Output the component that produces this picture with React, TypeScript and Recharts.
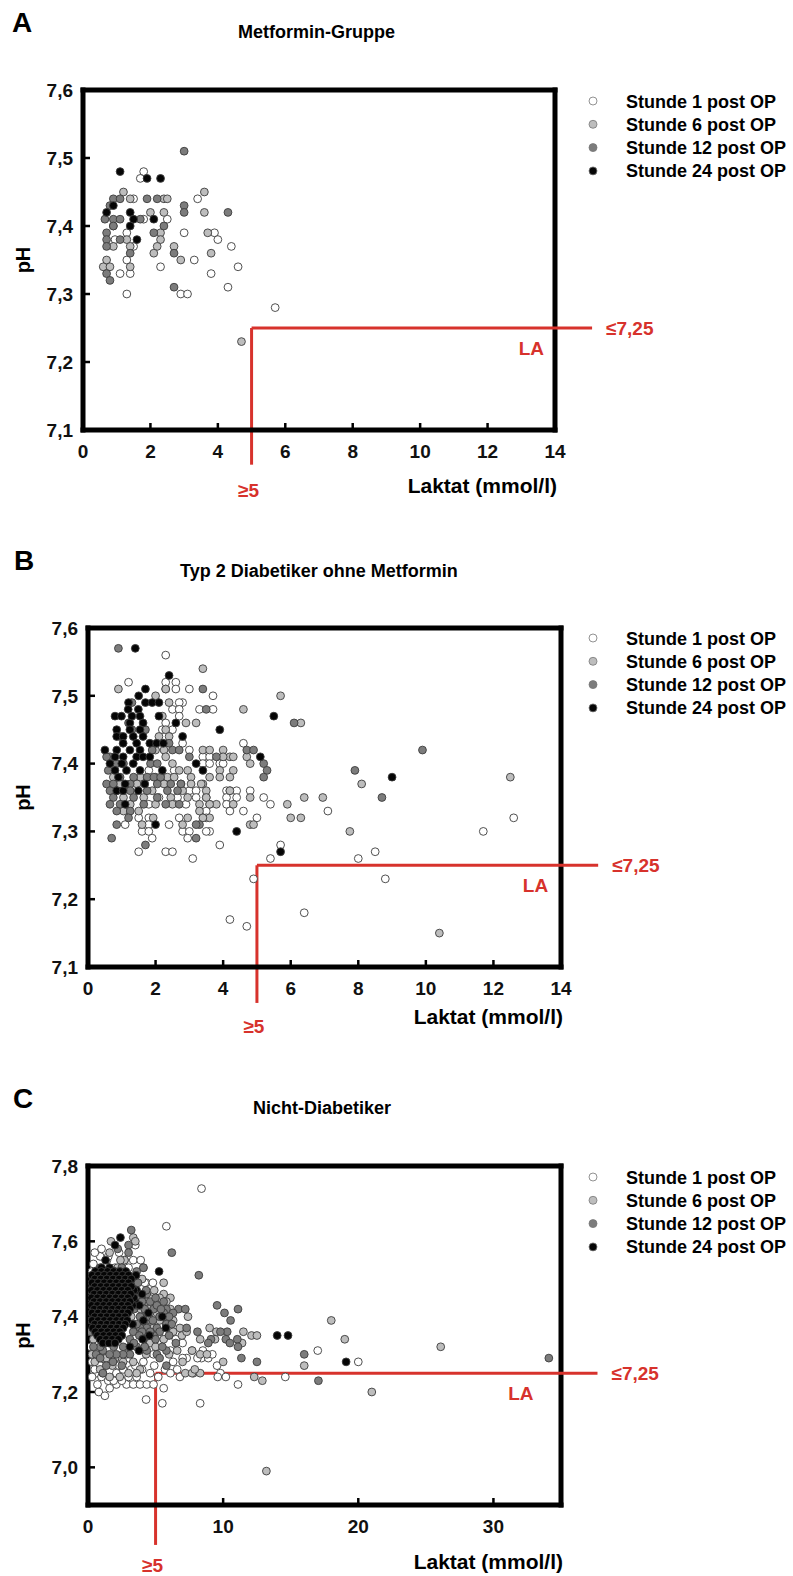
import React from 'react';
import { ScatterChart, Scatter, XAxis, YAxis, ReferenceLine } from 'recharts';

type Pt = [number, number];

// ---------- series definitions ----------
const seriesNames = ['Stunde 1 post OP', 'Stunde 6 post OP', 'Stunde 12 post OP', 'Stunde 24 post OP'];
const seriesFills = ['#ffffff', '#bdbdbd', '#7c7c7c', '#050505'];

// ---------- A: Metformin-Gruppe (Laktat, pH) ----------
const metH1: Pt[] = [
  [1.8, 7.48], [1.7, 7.47], [1.5, 7.44], [3.4, 7.44], [2.5, 7.41], [1.8, 7.41], [1.3, 7.39], [3.0, 7.39],
  [3.9, 7.39], [4.0, 7.38], [0.95, 7.38], [1.5, 7.37], [4.4, 7.37], [1.3, 7.35], [3.3, 7.35], [1.1, 7.33],
  [1.4, 7.33], [2.3, 7.34], [3.8, 7.33], [4.6, 7.34], [1.3, 7.3], [2.9, 7.3], [3.1, 7.3], [4.3, 7.31], [5.7, 7.28],
];
const metH6: Pt[] = [
  [1.2, 7.45], [3.6, 7.45], [1.4, 7.44], [2.4, 7.44], [2.5, 7.44], [2.0, 7.42], [2.4, 7.42], [3.6, 7.42],
  [2.3, 7.39], [3.7, 7.39], [1.3, 7.38], [2.3, 7.38], [0.9, 7.37], [1.4, 7.37], [2.2, 7.37], [2.7, 7.37],
  [2.1, 7.36], [3.8, 7.36], [2.9, 7.35], [0.7, 7.35], [0.6, 7.34], [0.8, 7.34], [1.4, 7.34], [4.7, 7.23], [0.9, 7.4],
];
const metH12: Pt[] = [
  [3.0, 7.51], [0.9, 7.44], [1.1, 7.44], [1.9, 7.44], [2.2, 7.44], [3.0, 7.43], [3.0, 7.42], [4.3, 7.42],
  [0.65, 7.41], [0.9, 7.41], [1.1, 7.41], [1.7, 7.41], [0.9, 7.4], [2.4, 7.4], [0.7, 7.39], [2.1, 7.39],
  [0.7, 7.38], [1.1, 7.38], [0.7, 7.37], [1.4, 7.36], [2.7, 7.36], [0.7, 7.33], [0.8, 7.32], [2.7, 7.31], [0.8, 7.43],
];
const metH24: Pt[] = [
  [1.1, 7.48], [1.9, 7.47], [2.3, 7.47], [0.9, 7.43], [0.7, 7.42], [1.4, 7.42], [1.5, 7.41], [1.4, 7.4],
  [2.1, 7.41], [1.6, 7.38],
];

// ---------- B: Typ 2 Diabetiker ohne Metformin ----------
const t2dH1: Pt[] = [
  [2.3, 7.56], [1.2, 7.52], [2.3, 7.52], [2.6, 7.52], [3.0, 7.51], [3.7, 7.5], [2.8, 7.49], [3.3, 7.48],
  [3.7, 7.48], [2.3, 7.51], [2.6, 7.51], [2.7, 7.49], [2.5, 7.48], [2.7, 7.48], [2.7, 7.47], [2.3, 7.46],
  [2.5, 7.45], [2.2, 7.45], [2.8, 7.43], [3.0, 7.42], [3.4, 7.41], [3.6, 7.41], [4.0, 7.41], [3.4, 7.4],
  [3.6, 7.4], [3.9, 7.4], [4.0, 7.4], [1.8, 7.39], [2.55, 7.39], [2.0, 7.38], [2.3, 7.37], [2.75, 7.37],
  [4.6, 7.43], [3.0, 7.36], [3.2, 7.36], [4.1, 7.36], [4.2, 7.36], [4.4, 7.36], [4.8, 7.36], [2.1, 7.35],
  [2.65, 7.35], [3.2, 7.35], [3.5, 7.35], [4.1, 7.35], [4.4, 7.35], [5.2, 7.35], [1.8, 7.34], [2.9, 7.34],
  [3.6, 7.34], [4.1, 7.34], [5.4, 7.34], [3.5, 7.33], [4.2, 7.33], [4.6, 7.33], [7.1, 7.33], [1.5, 7.32],
  [1.8, 7.32], [2.7, 7.32], [3.5, 7.32], [5.0, 7.32], [1.1, 7.31], [1.8, 7.31], [2.4, 7.31], [2.8, 7.3],
  [3.6, 7.3], [1.6, 7.3], [1.8, 7.3], [3.0, 7.3], [1.9, 7.29], [3.9, 7.28], [5.7, 7.28], [1.5, 7.27],
  [2.3, 7.27], [2.5, 7.27], [3.1, 7.26], [5.4, 7.26], [8.0, 7.26], [8.5, 7.27], [4.9, 7.23], [8.8, 7.23],
  [4.2, 7.17], [4.7, 7.16], [6.4, 7.18], [11.7, 7.3], [12.6, 7.32], [3.5, 7.3], [2.95, 7.29],
];
const t2dH6: Pt[] = [
  [3.4, 7.54], [0.9, 7.51], [2.0, 7.5], [2.3, 7.51], [4.6, 7.48], [5.7, 7.5], [6.3, 7.46], [2.9, 7.46],
  [3.2, 7.46], [2.4, 7.49], [2.2, 7.47], [2.3, 7.45], [2.1, 7.44], [2.4, 7.44], [3.4, 7.42], [3.6, 7.42],
  [4.0, 7.42], [4.2, 7.41], [4.0, 7.41], [4.3, 7.41], [4.7, 7.41], [4.8, 7.4], [4.3, 7.39], [3.9, 7.39],
  [3.6, 7.38], [3.9, 7.38], [4.2, 7.38], [3.4, 7.37], [4.8, 7.35], [4.8, 7.31], [4.9, 7.31], [5.9, 7.34],
  [6.0, 7.32], [6.3, 7.32], [6.4, 7.35], [6.95, 7.35], [7.75, 7.3], [8.1, 7.37], [12.5, 7.38], [10.4, 7.15],
  [3.6, 7.32], [3.8, 7.34], [3.6, 7.34], [4.3, 7.34], [3.4, 7.32], [2.0, 7.42], [2.25, 7.42], [2.3, 7.41],
  [2.5, 7.4], [2.7, 7.39], [2.95, 7.39], [0.75, 7.38], [1.55, 7.38], [2.35, 7.38], [2.55, 7.38], [3.05, 7.38],
  [0.95, 7.37], [1.45, 7.37], [2.25, 7.37], [3.05, 7.37], [3.35, 7.37], [0.85, 7.36], [1.9, 7.36], [2.8, 7.36],
  [3.5, 7.36], [4.2, 7.36], [1.05, 7.35], [1.65, 7.35], [2.45, 7.35], [2.95, 7.35], [3.5, 7.35], [1.25, 7.34],
  [2.0, 7.34], [2.5, 7.34], [3.3, 7.34], [1.5, 7.33], [1.05, 7.33], [3.3, 7.33], [2.8, 7.31], [1.6, 7.31],
  [2.95, 7.32], [1.93, 7.32],
];
const t2dH12: Pt[] = [
  [0.9, 7.57], [3.4, 7.51], [3.5, 7.48], [6.1, 7.46], [4.7, 7.42], [4.9, 7.42], [5.2, 7.4], [5.3, 7.39],
  [5.2, 7.38], [7.9, 7.39], [8.7, 7.35], [9.9, 7.42], [3.8, 7.41], [3.3, 7.31], [3.2, 7.29], [0.7, 7.29],
  [1.7, 7.28], [2.7, 7.34], [1.3, 7.49], [0.65, 7.41], [0.55, 7.41], [1.9, 7.42], [2.5, 7.42], [2.7, 7.42],
  [0.85, 7.4], [1.05, 7.4], [1.85, 7.4], [2.05, 7.4], [3.0, 7.41], [0.6, 7.39], [0.95, 7.38], [1.35, 7.38],
  [1.75, 7.38], [1.95, 7.38], [2.15, 7.38], [0.55, 7.37], [0.75, 7.37], [1.25, 7.37], [2.05, 7.37], [2.45, 7.37],
  [2.75, 7.37], [0.65, 7.36], [1.25, 7.36], [1.75, 7.36], [2.35, 7.36], [2.65, 7.36], [0.75, 7.35], [1.35, 7.35],
  [2.05, 7.35], [0.65, 7.34], [0.95, 7.34], [1.65, 7.34], [2.3, 7.34], [0.85, 7.33], [1.25, 7.33], [1.2, 7.32],
  [0.85, 7.31], [3.2, 7.31], [1.3, 7.45], [0.95, 7.44], [1.7, 7.45], [1.2, 7.46], [2.4, 7.43],
];
const t2dH24: Pt[] = [
  [1.4, 7.57], [2.4, 7.53], [1.5, 7.5], [1.7, 7.51], [1.2, 7.49], [1.7, 7.49], [1.9, 7.49], [2.1, 7.49],
  [2.1, 7.47], [5.5, 7.47], [2.6, 7.46], [3.9, 7.45], [2.8, 7.44], [5.1, 7.41], [3.2, 7.4], [3.4, 7.39],
  [2.2, 7.39], [9.0, 7.38], [2.0, 7.31], [4.4, 7.3], [5.7, 7.27], [0.5, 7.42], [1.1, 7.34], [1.19, 7.48],
  [1.49, 7.48], [0.8, 7.47], [0.99, 7.47], [1.54, 7.47], [1.24, 7.46], [1.63, 7.46], [0.85, 7.45], [1.24, 7.45],
  [1.54, 7.45], [0.85, 7.44], [1.04, 7.44], [1.34, 7.44], [1.63, 7.44], [1.04, 7.43], [1.44, 7.43], [1.83, 7.43],
  [2.03, 7.43], [2.23, 7.43], [0.85, 7.42], [1.24, 7.42], [1.54, 7.42], [0.8, 7.41], [1.04, 7.41], [1.44, 7.41],
  [1.63, 7.41], [1.83, 7.41], [0.65, 7.4], [1.34, 7.4], [1.0, 7.4], [0.8, 7.39], [1.14, 7.39], [1.54, 7.39],
  [1.68, 7.37], [0.85, 7.36], [1.04, 7.36], [1.49, 7.36], [1.1, 7.37], [0.9, 7.38], [1.3, 7.47],
];

// ---------- C: Nicht-Diabetiker ----------
const ndH1: Pt[] = [
  [8.4, 7.74], [5.8, 7.64], [0.9, 7.56], [1.4, 7.55], [3.5, 7.59], [3.35, 7.55], [1.5, 7.56], [2.7, 7.55],
  [0.5, 7.57], [4.3, 7.49], [4.8, 7.49], [4.2, 7.49], [0.6, 7.25], [2.1, 7.22], [2.85, 7.22], [3.35, 7.22],
  [3.85, 7.22], [4.35, 7.22], [4.85, 7.22], [4.6, 7.25], [2.1, 7.25], [2.6, 7.26], [3.2, 7.26], [0.8, 7.2],
  [1.25, 7.19], [4.3, 7.18], [5.5, 7.17], [5.6, 7.21], [6.8, 7.24], [7.8, 7.25], [7.3, 7.29], [8.4, 7.29],
  [8.9, 7.29], [9.55, 7.27], [9.8, 7.25], [9.6, 7.24], [10.2, 7.24], [6.3, 7.28], [7.0, 7.29], [6.1, 7.31],
  [4.85, 7.3], [4.1, 7.28], [5.7, 7.26], [6.6, 7.26], [8.3, 7.17], [11.1, 7.22], [14.6, 7.24], [17.0, 7.31],
  [20.0, 7.28], [7.7, 7.31], [8.1, 7.29], [5.1, 7.32], [4.35, 7.35], [5.6, 7.36], [0.3, 7.28], [0.5, 7.26],
  [1.0, 7.24], [1.5, 7.23], [0.3, 7.24], [1.2, 7.27], [1.9, 7.23], [2.5, 7.23], [3.0, 7.24], [3.6, 7.24],
  [4.0, 7.26], [0.7, 7.22], [1.6, 7.21], [2.3, 7.27], [0.2, 7.32], [0.15, 7.36], [0.3, 7.52], [0.2, 7.47],
  [2.0, 7.53], [3.0, 7.53], [1.0, 7.58], [0.4, 7.54], [2.3, 7.57], [3.9, 7.55], [4.5, 7.45], [5.3, 7.33],
  [6.5, 7.34], [7.0, 7.33], [8.5, 7.31], [9.2, 7.3], [5.2, 7.24], [6.1, 7.25], [4.9, 7.27], [3.0, 7.29],
  [2.0, 7.29], [1.5, 7.28], [3.5, 7.27], [0.9, 7.27],
];
const ndH6: Pt[] = [
  [1.7, 7.6], [3.35, 7.61], [3.5, 7.6], [2.7, 7.55], [1.6, 7.57], [4.1, 7.53], [2.2, 7.53], [5.6, 7.49],
  [5.6, 7.46], [6.1, 7.45], [6.95, 7.35], [7.3, 7.36], [7.4, 7.4], [9.0, 7.37], [8.3, 7.34], [7.7, 7.31],
  [8.3, 7.3], [8.8, 7.3], [11.5, 7.36], [12.1, 7.35], [12.5, 7.35], [11.4, 7.33], [7.2, 7.25], [7.7, 7.25],
  [8.3, 7.25], [12.3, 7.24], [12.9, 7.23], [16.0, 7.27], [18.0, 7.39], [19.0, 7.34], [21.0, 7.2], [13.2, 6.99],
  [26.1, 7.32], [0.9, 7.3], [1.35, 7.29], [1.1, 7.25], [1.6, 7.24], [2.35, 7.24], [0.9, 7.26], [2.0, 7.29],
  [2.85, 7.3], [3.35, 7.28], [3.85, 7.26], [3.6, 7.25], [5.3, 7.45], [5.8, 7.44], [5.1, 7.41], [6.3, 7.39],
  [5.8, 7.38], [4.85, 7.37], [6.3, 7.36], [6.8, 7.37], [5.6, 7.34], [4.6, 7.33], [4.1, 7.39], [5.3, 7.39],
  [4.6, 7.43], [6.1, 7.42], [0.9, 7.52], [1.6, 7.52], [2.0, 7.52], [0.5, 7.28], [1.8, 7.27], [2.6, 7.28],
  [4.3, 7.3], [3.0, 7.25], [0.3, 7.3], [0.4, 7.34], [6.6, 7.31], [7.0, 7.28], [9.5, 7.36], [10.0, 7.28],
  [2.4, 7.55], [3.1, 7.49], [3.8, 7.46], [3.9, 7.42], [4.9, 7.47], [7.9, 7.26], [9.4, 7.34],
  [3.4, 7.48], [4.0, 7.5], [3.2, 7.4], [4.4, 7.44], [5.0, 7.32], [6.0, 7.3], [3.8, 7.31],
];
const ndH12: Pt[] = [
  [3.2, 7.63], [3.0, 7.59], [2.2, 7.58], [6.2, 7.57], [8.2, 7.51], [4.1, 7.53], [3.6, 7.52], [3.85, 7.45],
  [4.35, 7.46], [4.6, 7.44], [4.35, 7.41], [4.85, 7.42], [5.1, 7.43], [5.3, 7.4], [5.6, 7.44], [5.8, 7.42],
  [5.6, 7.41], [5.8, 7.38], [5.1, 7.37], [5.3, 7.36], [4.85, 7.35], [4.35, 7.37], [3.85, 7.4], [3.85, 7.37],
  [3.35, 7.36], [4.1, 7.34], [3.6, 7.32], [3.1, 7.3], [2.6, 7.3], [2.1, 7.3], [1.6, 7.3], [1.1, 7.31],
  [0.9, 7.32], [1.35, 7.33], [4.35, 7.31], [5.1, 7.3], [5.8, 7.31], [5.3, 7.29], [5.8, 7.27], [6.7, 7.42],
  [7.2, 7.42], [7.3, 7.37], [8.1, 7.36], [9.55, 7.43], [10.1, 7.41], [10.55, 7.39], [11.1, 7.42], [10.3, 7.36],
  [10.2, 7.34], [10.5, 7.33], [11.05, 7.34], [11.1, 7.32], [11.35, 7.29], [12.5, 7.28], [16.0, 7.3], [17.05, 7.23],
  [34.1, 7.29], [0.6, 7.3], [0.9, 7.29], [1.35, 7.27], [1.85, 7.28], [1.1, 7.25], [0.4, 7.32], [0.15, 7.36],
  [0.25, 7.39], [1.35, 7.52], [2.1, 7.51], [0.9, 7.53], [3.2, 7.45], [3.4, 7.42], [3.1, 7.34], [2.6, 7.32],
  [1.9, 7.32], [3.6, 7.38], [4.6, 7.39], [2.5, 7.27], [1.6, 7.34], [6.3, 7.41], [3.0, 7.57], [2.5, 7.53],
  [9.1, 7.34], [9.8, 7.36], [8.9, 7.33],
  [3.3, 7.44], [3.6, 7.43], [4.0, 7.44], [4.2, 7.42], [4.5, 7.4], [4.8, 7.39], [5.0, 7.45], [5.4, 7.42],
  [6.0, 7.4], [6.2, 7.38], [4.0, 7.36], [4.6, 7.36], [5.0, 7.34], [5.5, 7.32], [3.4, 7.33], [3.8, 7.35],
  [4.2, 7.32], [6.0, 7.35], [6.5, 7.33], [3.3, 7.47], [3.7, 7.49], [4.3, 7.47],
];
const ndH24: Pt[] = [
  [2.4, 7.61], [2.0, 7.59], [1.3, 7.55], [1.0, 7.53], [1.6, 7.53], [3.55, 7.51], [3.6, 7.47], [5.26, 7.52],
  [4.47, 7.41], [5.5, 7.4], [5.76, 7.37], [4.54, 7.35], [4.04, 7.34], [3.77, 7.31], [3.1, 7.32], [4.1, 7.39],
  [14.0, 7.35], [14.8, 7.35], [19.1, 7.28], [3.5, 7.44], [3.8, 7.43], [4.0, 7.46], [3.3, 7.38],
  [3.4, 7.47], [3.4, 7.45], [3.3, 7.43],
  // dense core of the 24 h cluster
  [0.55, 7.52], [1.0, 7.52], [1.45, 7.52], [1.9, 7.52], [2.35, 7.52], [2.8, 7.52],
  [0.3, 7.51], [0.75, 7.51], [1.2, 7.51], [1.65, 7.51], [2.1, 7.51], [2.55, 7.51], [3.0, 7.51],
  [0.5, 7.5], [0.95, 7.5], [1.4, 7.5], [1.85, 7.5], [2.3, 7.5], [2.75, 7.5], [3.2, 7.5],
  [0.3, 7.49], [0.75, 7.49], [1.2, 7.49], [1.65, 7.49], [2.1, 7.49], [2.55, 7.49], [3.0, 7.49],
  [0.5, 7.48], [0.95, 7.48], [1.4, 7.48], [1.85, 7.48], [2.3, 7.48], [2.75, 7.48], [3.2, 7.48],
  [0.25, 7.47], [0.7, 7.47], [1.15, 7.47], [1.6, 7.47], [2.05, 7.47], [2.5, 7.47], [2.95, 7.47],
  [0.45, 7.46], [0.9, 7.46], [1.35, 7.46], [1.8, 7.46], [2.25, 7.46], [2.7, 7.46], [3.15, 7.46],
  [0.25, 7.45], [0.7, 7.45], [1.15, 7.45], [1.6, 7.45], [2.05, 7.45], [2.5, 7.45], [2.95, 7.45],
  [0.45, 7.44], [0.9, 7.44], [1.35, 7.44], [1.8, 7.44], [2.25, 7.44], [2.7, 7.44], [3.1, 7.44],
  [0.25, 7.43], [0.7, 7.43], [1.15, 7.43], [1.6, 7.43], [2.05, 7.43], [2.5, 7.43], [2.95, 7.43],
  [0.45, 7.42], [0.9, 7.42], [1.35, 7.42], [1.8, 7.42], [2.25, 7.42], [2.7, 7.42], [3.1, 7.42],
  [0.3, 7.41], [0.75, 7.41], [1.2, 7.41], [1.65, 7.41], [2.1, 7.41], [2.55, 7.41], [2.95, 7.41],
  [0.5, 7.4], [0.95, 7.4], [1.4, 7.4], [1.85, 7.4], [2.3, 7.4], [2.75, 7.4],
  [0.3, 7.39], [0.75, 7.39], [1.2, 7.39], [1.65, 7.39], [2.1, 7.39], [2.55, 7.39], [2.9, 7.39],
  [0.5, 7.38], [0.95, 7.38], [1.4, 7.38], [1.85, 7.38], [2.3, 7.38], [2.75, 7.38],
  [0.35, 7.37], [0.8, 7.37], [1.25, 7.37], [1.7, 7.37], [2.15, 7.37], [2.6, 7.37],
  [0.55, 7.36], [1.0, 7.36], [1.45, 7.36], [1.9, 7.36], [2.35, 7.36],
  [0.7, 7.35], [1.15, 7.35], [1.6, 7.35], [2.05, 7.35], [2.5, 7.35],
  [0.9, 7.34], [1.35, 7.34], [1.8, 7.34], [2.25, 7.34],
  [1.1, 7.33], [1.55, 7.33], [2.0, 7.33],
];

// ---------- axes ----------
const ticksX14 = [0, 2, 4, 6, 8, 10, 12, 14];
const ticksX35 = [0, 10, 20, 30];
const ticksPh6 = [7.1, 7.2, 7.3, 7.4, 7.5, 7.6];
const ticksPh8 = [7.0, 7.2, 7.4, 7.6, 7.8];

const LA_PH = 7.25; // Laktatazidose: pH <= 7,25
const LA_LAC = 5; // Laktat >= 5 mmol/l

const FONT = '"Liberation Sans", Arial, Helvetica, sans-serif';
const RED = '#d7322c';

interface PanelCfg {
  letter: string;
  title: string;
  series: Pt[][];
  xDomain: [number, number];
  xTicks: number[];
  yDomain: [number, number];
  yTicks: number[];
  hEnd: number; // right end of the pH threshold line (beyond the frame)
  vEnd: number; // lower end of the lactate threshold line (below the frame)
  layout: {
    top: number; height: number;
    plotLeft: number; plotTop: number; plotRight: number; plotBottom: number;
    letterY: number; letterX: number; titleX: number; titleY: number;
    legendY: number; xTitleY: number; laGap: number; geDy: number;
  };
}

const panels: PanelCfg[] = [
  {
    letter: 'A', title: 'Metformin-Gruppe', series: [metH1, metH6, metH12, metH24],
    xDomain: [0, 14], xTicks: ticksX14, yDomain: [7.1, 7.6], yTicks: ticksPh6, hEnd: 15.1, vEnd: 7.049,
    layout: { top: 0, height: 520, plotLeft: 83, plotTop: 90, plotRight: 555, plotBottom: 430,
      letterX: 12, letterY: 32, titleX: 238, titleY: 38, legendY: 101, xTitleY: 493, laGap: 48, geDy: 32 },
  },
  {
    letter: 'B', title: 'Typ 2 Diabetiker ohne Metformin', series: [t2dH1, t2dH6, t2dH12, t2dH24],
    xDomain: [0, 14], xTicks: ticksX14, yDomain: [7.1, 7.6], yTicks: ticksPh6, hEnd: 15.1, vEnd: 7.047,
    layout: { top: 540, height: 520, plotLeft: 88, plotTop: 628, plotRight: 561, plotBottom: 967,
      letterX: 14, letterY: 570, titleX: 180, titleY: 577, legendY: 638, xTitleY: 1024, laGap: 50, geDy: 30 },
  },
  {
    letter: 'C', title: 'Nicht-Diabetiker', series: [ndH1, ndH6, ndH12, ndH24],
    xDomain: [0, 35], xTicks: ticksX35, yDomain: [6.9, 7.8], yTicks: ticksPh8, hEnd: 37.7, vEnd: 6.794,
    layout: { top: 1080, height: 496, plotLeft: 88, plotTop: 1166, plotRight: 561, plotBottom: 1505,
      letterX: 13, letterY: 1108, titleX: 253, titleY: 1114, legendY: 1177, xTitleY: 1569, laGap: 64, geDy: 27 },
  },
];

const Y_W = 60;
const X_H = 30;

const makeDot = (fill: string) => (p: any) => (
  <circle cx={p.cx} cy={p.cy} r={3.9} fill={fill} stroke="#3c3c3c" strokeWidth={0.9} />
);

const redText = { fill: RED, fontSize: 19, fontWeight: 700, fontFamily: FONT } as const;

function vbOf(p: any) {
  const vb = p && p.viewBox ? p.viewBox : {};
  return { x: vb.x ?? 0, y: vb.y ?? 0, width: vb.width ?? 0, height: vb.height ?? 0 };
}

function Panel({ cfg }: { cfg: PanelCfg }) {
  const L = cfg.layout;
  const margin = {
    top: L.plotTop - L.top,
    left: L.plotLeft - Y_W,
    right: 793 - L.plotRight,
    bottom: L.top + L.height - L.plotBottom - X_H,
  };
  const frame = { stroke: '#000', strokeWidth: 5, strokeLinecap: 'square' as const };
  const tickStyle = { fill: '#111', fontSize: 19, fontWeight: 700, fontFamily: FONT };
  const fmtPh = (v: number) => v.toFixed(1).replace('.', ',');

  return (
    <div style={{ position: 'absolute', left: 0, top: L.top, width: 793, height: L.height }}>
      <ScatterChart width={793} height={L.height} margin={margin}>
        <XAxis
          type="number" dataKey="x" domain={cfg.xDomain} ticks={cfg.xTicks} interval={0}
          allowDataOverflow height={X_H} tickSize={-7} tickMargin={22}
          axisLine={frame} tickLine={{ stroke: '#000', strokeWidth: 2.5 }} tick={tickStyle}
        />
        <YAxis
          type="number" dataKey="y" domain={cfg.yDomain} ticks={cfg.yTicks} interval={0}
          allowDataOverflow width={Y_W} tickSize={-7} tickMargin={17} tickFormatter={fmtPh}
          axisLine={frame} tickLine={{ stroke: '#000', strokeWidth: 2.5 }} tick={tickStyle}
        />
        <ReferenceLine y={cfg.yDomain[1]} {...frame} ifOverflow="visible" />
        <ReferenceLine x={cfg.xDomain[1]} {...frame} ifOverflow="visible" />
        <ReferenceLine
          segment={[{ x: LA_LAC, y: LA_PH }, { x: cfg.hEnd, y: LA_PH }]}
          stroke={RED} strokeWidth={3} ifOverflow="visible"
          label={(p: any) => {
            const vb = vbOf(p);
            const right = vb.x + vb.width;
            return (
              <g>
                <text x={right + 14} y={vb.y + 7} style={redText}>≤7,25</text>
                <text x={right - L.laGap} y={vb.y + 27} textAnchor="end" style={redText}>LA</text>
              </g>
            );
          }}
        />
        <ReferenceLine
          segment={[{ x: LA_LAC, y: LA_PH }, { x: LA_LAC, y: cfg.vEnd }]}
          stroke={RED} strokeWidth={3} ifOverflow="visible"
          label={(p: any) => {
            const vb = vbOf(p);
            return (
              <text x={vb.x - 3} y={vb.y + vb.height + L.geDy} textAnchor="middle" style={redText}>≥5</text>
            );
          }}
        />
        {cfg.series.map((pts, i) => (
          <Scatter
            key={seriesNames[i]}
            name={seriesNames[i]}
            data={pts.map(([x, y]) => ({ x, y }))}
            shape={makeDot(seriesFills[i])}
            isAnimationActive={false}
          />
        ))}
      </ScatterChart>
    </div>
  );
}

function Annotations() {
  const bold = { fontFamily: FONT, fontWeight: 700, fill: '#000' } as const;
  return (
    <svg width={793} height={1576} style={{ position: 'absolute', left: 0, top: 0, pointerEvents: 'none' }}>
      {panels.map((cfg) => {
        const L = cfg.layout;
        const midY = (L.plotTop + L.plotBottom) / 2;
        return (
          <g key={cfg.letter}>
            <text x={L.letterX} y={L.letterY} style={{ ...bold, fontSize: 28 }}>{cfg.letter}</text>
            <text x={L.titleX} y={L.titleY} style={{ ...bold, fontSize: 18 }}>{cfg.title}</text>
            <text x={23} y={midY} transform={`rotate(-90 23 ${midY})`} textAnchor="middle"
              dominantBaseline="central" style={{ ...bold, fontSize: 20 }}>pH</text>
            <text x={L.plotRight + 2} y={L.xTitleY} textAnchor="end" style={{ ...bold, fontSize: 21 }}>
              Laktat (mmol/l)
            </text>
            {seriesNames.map((name, i) => {
              const cy = L.legendY + i * 23.3;
              return (
                <g key={name}>
                  <circle cx={593} cy={cy} r={4} fill={seriesFills[i]} stroke="#777" strokeWidth={0.8} />
                  <text x={626} y={cy + 6.5} style={{ ...bold, fontSize: 18 }}>{name}</text>
                </g>
              );
            })}
          </g>
        );
      })}
    </svg>
  );
}

export default function App() {
  return (
    <div style={{ position: 'absolute', left: 0, top: 0, width: 793, height: 1576, background: '#fff', fontFamily: FONT }}>
      {panels.map((cfg) => (
        <Panel key={cfg.letter} cfg={cfg} />
      ))}
      <Annotations />
    </div>
  );
}
